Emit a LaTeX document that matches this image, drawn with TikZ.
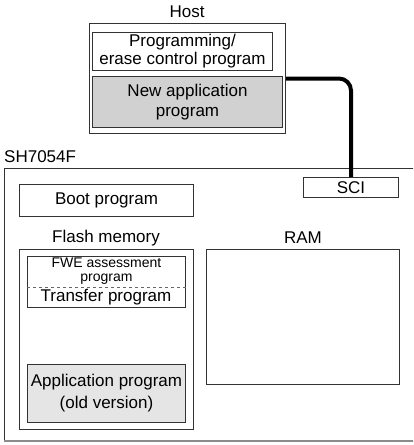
\documentclass[tikz,border=0pt]{standalone}
\usepackage{fontspec}
\setmainfont{Liberation Sans}
\begin{document}
\begin{tikzpicture}[
  x=1pt, y=-1pt,
  font=\fontsize{17}{19}\selectfont,
  box/.style={draw=black!80, line width=1pt, rectangle, inner sep=0pt, anchor=north west, align=center},
  small/.style={font=\fontsize{14}{13.5}\selectfont},
  lbl/.style={inner sep=0pt}
]
  \useasboundingbox (0,0) rectangle (413,445);
  \clip (0,0) rectangle (413,445);
  %% --- Host ---
  \node[box, minimum width=196pt, minimum height=110pt] (host) at (89,23) {};
  \node[lbl] (hostlbl) at (187,12) {Host};
  \node[box, minimum width=180pt, minimum height=38pt,
        font=\fontsize{17}{18}\selectfont] (pec) at (92,32)
        {Programming/\\erase control program};
  \node[box, fill=black!18, minimum width=190pt, minimum height=51pt,
        font=\fontsize{17}{20}\selectfont] (newapp) at (92,76)
        {New application\\program};
  %% --- SH7054F chip ---
  \node[lbl, anchor=west] (chiplbl) at (4,157) {SH7054F};
  \draw[black!80, line width=1pt] (420,168) -- (4,168) -- (4,441);
  \draw[black!45, line width=1.5pt] (4,441) -- (420,441);
  \node[box, minimum width=95pt, minimum height=20pt] (sci) at (303,177) {SCI};
  \node[box, minimum width=174pt, minimum height=32pt] (boot) at (19,184) {Boot program};
  \node[lbl] (flashlbl) at (106,238) {Flash memory};
  \node[lbl] (ramlbl) at (303,238) {RAM};
  %% --- Flash memory ---
  \node[box, minimum width=174pt, minimum height=180pt] (flash) at (19,249) {};
  \node[box, minimum width=158pt, minimum height=51pt] (xfer) at (27,256) {};
  \node[small, align=center, anchor=north, inner sep=0pt] (fwe) at ([yshift=-2pt]xfer.north)
        {FWE assessment\\program};
  \draw[black!60, dashed, line width=1pt] (xfer.west |- 0,287) coordinate (dl)
        -- (xfer.east |- dl);
  \node[lbl] (xferlbl) at (106,297) {Transfer program};
  \node[box, fill=black!10, minimum width=158pt, minimum height=58pt,
        font=\fontsize{17}{22}\selectfont] (oldapp) at (27,364)
        {Application program\\(old version)};
  %% --- RAM ---
  \node[box, minimum width=193pt, minimum height=135pt] (ram) at (206,249) {};
  %% --- Host to SCI link ---
  \draw[line width=4pt, rounded corners=12pt] (host.east) -| (sci.north);
\end{tikzpicture}
\end{document}
